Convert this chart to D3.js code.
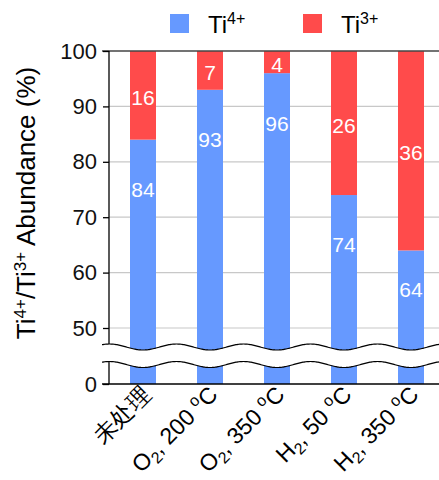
<!DOCTYPE html>
<html>
<head>
<meta charset="utf-8">
<script src="https://cdn.jsdelivr.net/npm/d3@7"></script>
<style>
  body { margin: 0; background: #fff; }
  text { font-family: "Liberation Sans", Arial, sans-serif; }
</style>
</head>
<body>
<svg id="chart" width="439" height="480"></svg>
<script>
// data
const categories = ["未处理", "O2, 200 oC", "O2, 350 oC", "H2, 50 oC", "H2, 350 oC"]
const ti4 = [84, 93, 96, 74, 64]
const ti3 = [16, 7, 4, 26, 36]
const yTicks = [50, 60, 70, 80, 90, 100]
const series = ["Ti4+", "Ti3+"]

const blue = "#6699ff"
const red = "#ff4b4b"

const svg = d3.select("#chart")
const left = 109, right = 439
const base = 384 // where 0 sits, under the axis break
const barW = 26

const x = d3.scalePoint().domain(categories).range([143, 411])
const y = d3.scaleLinear().domain([50, 100]).range([328, 51])
const yLow = d3.scaleLinear().domain([0, 5]).range([base, 356])

// wavy break lines
const period = 67
const wave = (px, mid) => mid + 3 * Math.cos(2 * Math.PI * (px - 143) / period)
const upMid = 347, lowMid = 364.5

// gridlines
svg.append("g")
    .selectAll("line")
    .data(yTicks.filter(d => d < 100))
    .join("line")
    .attr("x1", left).attr("x2", right)
    .attr("y1", d => y(d)).attr("y2", d => y(d))
    .attr("stroke", "#c8c8c8")
    .attr("stroke-width", 1.2)

// stacked bars
const bars = svg.append("g")
categories.forEach((c, i) => {
    bars.append("rect")
        .attr("x", x(c) - barW / 2).attr("width", barW)
        .attr("y", y(ti4[i])).attr("height", base - y(ti4[i]))
        .attr("fill", blue)
    bars.append("rect")
        .attr("x", x(c) - barW / 2).attr("width", barW)
        .attr("y", y(100)).attr("height", y(ti4[i]) - y(100))
        .attr("fill", red)
})

// break band
const xs = d3.range(102, right + 1, 1)
svg.append("path")
    .datum(xs)
    .attr("d", d3.area().x(d => d).y0(d => wave(d, upMid)).y1(d => wave(d, lowMid)))
    .attr("fill", "#fff")
;[upMid, lowMid].forEach(m => {
    svg.append("path")
        .datum(xs)
        .attr("d", d3.line().x(d => d).y(d => wave(d, m)))
        .attr("fill", "none")
        .attr("stroke", "#000")
        .attr("stroke-width", 1.2)
})

// frame lines
svg.append("line")
    .attr("x1", 102).attr("x2", right).attr("y1", y(100)).attr("y2", y(100))
    .attr("stroke", "#444").attr("stroke-width", 1.5)
svg.append("line")
    .attr("x1", 102).attr("x2", right).attr("y1", base).attr("y2", base)
    .attr("stroke", "#000").attr("stroke-width", 1.5)

// y axis
const axTop = svg.append("g")
    .attr("transform", `translate(${left},0)`)
    .call(d3.axisLeft(y).tickValues(yTicks).tickSize(6).tickPadding(6).tickFormat(d3.format("d")))
const axLow = svg.append("g")
    .attr("transform", `translate(${left},0)`)
    .call(d3.axisLeft(yLow).tickValues([0]).tickSize(6).tickPadding(6).tickFormat(d3.format("d")))
;[axTop, axLow].forEach(g => {
    g.select(".domain").remove()
    g.selectAll(".tick line").attr("stroke", "#000").attr("stroke-width", 1.3)
    g.selectAll(".tick text")
        .attr("font-size", 22)
        .attr("font-family", "Liberation Sans, Arial, sans-serif")
        .attr("fill", "#111")
})
svg.append("line")
    .attr("x1", left).attr("x2", left).attr("y1", y(100)).attr("y2", wave(left, upMid))
    .attr("stroke", "#000").attr("stroke-width", 1.3)
svg.append("line")
    .attr("x1", left).attr("x2", left).attr("y1", wave(left, lowMid)).attr("y2", base)
    .attr("stroke", "#000").attr("stroke-width", 1.3)

// value labels
const labels = svg.append("g")
    .attr("fill", "#fff")
    .attr("font-size", 21)
    .attr("text-anchor", "middle")
    .attr("dominant-baseline", "central")
categories.forEach((c, i) => {
    labels.append("text")
        .attr("x", x(c))
        .attr("y", (y(100) + y(ti4[i])) / 2 + 2)
        .text(ti3[i])
    const ly = Math.min(y(ti4[i] - 9), (y(ti4[i]) + y(50)) / 2)
    labels.append("text")
        .attr("x", x(c))
        .attr("y", ly)
        .text(ti4[i])
})

// x labels (2 -> subscript, o -> degree superscript)
function writeLabel(sel, s) {
    const m = s.match(/^([OH])2, (\d+) oC$/)
    if (!m) { sel.text(s); return }
    sel.append("tspan").text(m[1])
    sel.append("tspan").attr("font-size", 16).attr("dy", 5).text("2")
    sel.append("tspan").attr("dy", -5).text(", " + m[2] + " ")
    sel.append("tspan").attr("font-size", 16).attr("dy", -9).text("o")
    sel.append("tspan").attr("dy", 9).text("C")
}
categories.forEach(c => {
    const t = svg.append("text")
        .attr("transform", `translate(${x(c) + 9},396) rotate(-45)`)
        .attr("text-anchor", "end")
        .attr("font-size", 23)
        .attr("fill", "#000")
    writeLabel(t, c)
})

// y title
const title = svg.append("text")
    .attr("transform", "translate(35,203) rotate(-90)")
    .attr("text-anchor", "middle")
    .attr("font-size", 26)
    .attr("fill", "#000")
title.append("tspan").text("Ti")
title.append("tspan").attr("font-size", 17).attr("dy", -9).text("4+")
title.append("tspan").attr("dy", 9).text("/Ti")
title.append("tspan").attr("font-size", 17).attr("dy", -9).text("3+")
title.append("tspan").attr("dy", 9).text(" Abundance (%)")

// legend
const legX = [170, 303]
series.forEach((s, i) => {
    svg.append("rect")
        .attr("x", legX[i]).attr("y", 14).attr("width", 19).attr("height", 19)
        .attr("fill", i === 0 ? blue : red)
    const t = svg.append("text")
        .attr("x", legX[i] + 38).attr("y", 33)
        .attr("font-size", 24)
        .attr("fill", "#000")
    t.append("tspan").text(s.slice(0, 2))
    t.append("tspan").attr("font-size", 16).attr("dy", -9).text(s.slice(2))
})
</script>
</body>
</html>
